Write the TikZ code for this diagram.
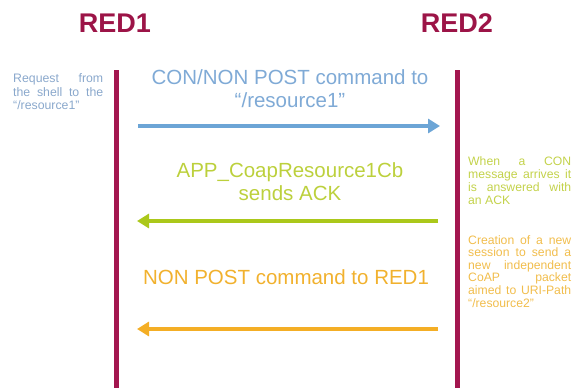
\documentclass[tikz,border=0pt]{standalone}
\usepackage{fontspec}
\setmainfont{Liberation Sans}
\usetikzlibrary{arrows.meta}
\definecolor{redline}{HTML}{A3164F}
\definecolor{redtitle}{HTML}{9C1447}
\definecolor{bluemsg}{HTML}{7FAAD6}
\definecolor{bluearr}{HTML}{6CA5D6}
\definecolor{bluenote}{HTML}{8AA8CC}
\definecolor{greenmsg}{HTML}{BCD03C}
\definecolor{greenarr}{HTML}{ABC81A}
\definecolor{greennote}{HTML}{C3D24A}
\definecolor{orangemsg}{HTML}{F1B12E}
\definecolor{orangearr}{HTML}{F4AE25}
\definecolor{orangenote}{HTML}{F1BD4C}
\begin{document}
\begin{tikzpicture}[x=1pt,y=-1pt,
  title/.style={font=\fontsize{27}{30}\selectfont\bfseries, text=redtitle, inner sep=0pt},
  lifeline/.style={draw=redline, line width=5pt},
  msg/.style={font=\fontsize{20.5}{23}\selectfont, align=center, inner sep=0pt},
  note/.style={text width=103pt, align=justify, inner sep=0pt, anchor=north west},
  arr/.style={line width=4pt, -{Triangle[length=12pt,width=14pt]}},
]
\useasboundingbox (0,0) rectangle (581,388);

% device titles
\node[title] (red1) at (115,23) {RED1};
\node[title] (red2) at (457,23) {RED2};

% lifelines
\coordinate (l1top) at (116,70);
\coordinate (l1bot) at (116,388);
\coordinate (l2top) at (457,70);
\coordinate (l2bot) at (457,388);
\draw[lifeline] (l1top) -- (l1bot);
\draw[lifeline] (l2top) -- (l2bot);

% message ends
\coordinate (b1) at (138,126);
\coordinate (b2) at (440,126);
\coordinate (g1) at (438,221);
\coordinate (g2) at (137,221);
\coordinate (o1) at (438,329);
\coordinate (o2) at (137,329);

% messages
\node[msg, text=bluemsg] (mblue) at (290,88.5) {CON/NON POST command to\\“/resource1”};
\draw[arr, bluearr] (b1) -- (b2);

\node[msg, text=greenmsg] (mgreen) at (290,181.5) {APP\_CoapResource1Cb\\sends ACK};
\draw[arr, greenarr] (g1) -- (g2);

\node[msg, text=orangemsg] (morange) at (286,277) {NON POST command to RED1};
\draw[arr, orangearr] (o1) -- (o2);

% side notes
\node[note, text width=90pt, font=\fontsize{12.3}{13.5}\selectfont, text=bluenote] (nleft) at (13,73.5)
  {Request from\linebreak the shell to the\linebreak “/resource1”};
\node[note, font=\fontsize{12.2}{13}\selectfont, text=greennote] (ngreen) at (468,156)
  {When a CON\linebreak message arrives it\linebreak is answered with\linebreak an ACK};
\node[note, font=\fontsize{12.2}{12.6}\selectfont, text=orangenote] (norange) at (468,235)
  {Creation of a new\linebreak session to send a\linebreak new independent\linebreak CoAP packet\linebreak aimed to URI-Path\linebreak “/resource2”};
\end{tikzpicture}
\end{document}
